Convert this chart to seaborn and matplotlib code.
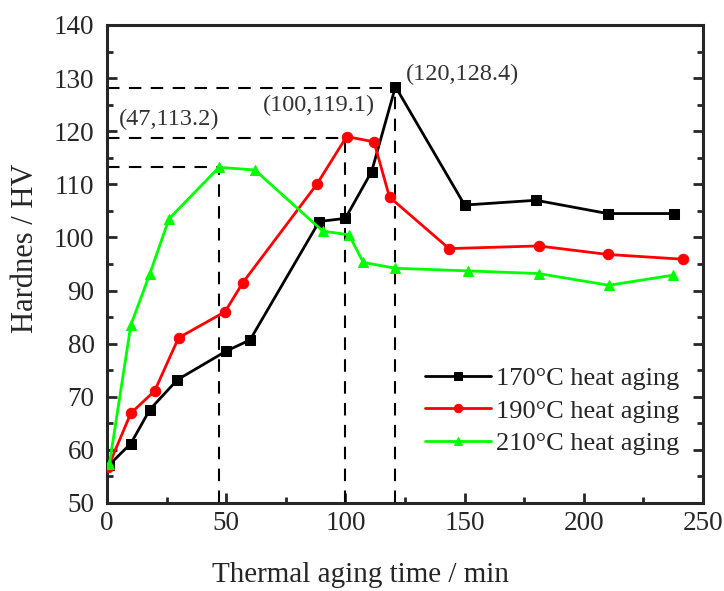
import matplotlib
matplotlib.use("Agg")
import matplotlib.pyplot as plt
import seaborn as sns
import pandas as pd
from matplotlib.ticker import MultipleLocator

x170 = [1, 10, 18, 29.5, 50, 60, 89, 100, 111, 121, 150, 180, 210, 238]
y170 = [57.2, 61.2, 67.6, 73.2, 78.6, 80.7, 103.0, 103.6, 112.4, 128.4, 106.1, 107.0, 104.5, 104.5]
x190 = [0.5, 10, 20, 30, 49.5, 57, 88, 100.5, 112, 118.5, 143.5, 181, 210, 241.5]
y190 = [56.8, 66.9, 71.1, 81.1, 86.0, 91.5, 110.0, 119.0, 118.0, 107.6, 97.9, 98.4, 96.8, 95.9]
x210 = [1, 10, 18, 26, 47, 62, 90.5, 101.5, 107.5, 121, 151.5, 181, 210.5, 237.5]
y210 = [57.3, 83.5, 93.2, 103.5, 113.2, 112.7, 101.2, 100.5, 95.3, 94.2, 93.7, 93.2, 91.0, 92.9]
series_labels = ["170\u00b0C heat aging", "190\u00b0C heat aging", "210\u00b0C heat aging"]
peak_x = [47, 100, 121]
peak_y = [113.2, 118.7, 128.2]
peak_text = ["(47,113.2)", "(100,119.1)", "(120,128.4)"]

sns.set_theme(style="ticks")
plt.rcParams["font.family"] = ["Liberation Serif", "DejaVu Serif"]

df = pd.concat([
    pd.DataFrame({"t": x170, "hv": y170, "s": series_labels[0]}),
    pd.DataFrame({"t": x190, "hv": y190, "s": series_labels[1]}),
    pd.DataFrame({"t": x210, "hv": y210, "s": series_labels[2]}),
])

fig = plt.figure(figsize=(7.24, 5.91), dpi=100)
ax = fig.add_axes([107/724, 1-503/591, (703-107)/724, (503-25)/591])

colors = ["#000000", "#FF0000", "#00FF00"]
markers = ["s", "o", "^"]
for lab, c, m in zip(series_labels, colors, markers):
    sub = df[df["s"] == lab]
    sns.lineplot(data=sub, x="t", y="hv", ax=ax, color=c, marker=m, markersize=7.5,
                 markeredgecolor=c, linewidth=2, label=lab, sort=False, zorder=3)

# dashed guide lines
for px, py in zip(peak_x, peak_y):
    ax.plot([0, px], [py, py], ls=(0, (6, 4.5)), color="black", lw=1.5, zorder=2)
    ax.plot([px, px], [50, py], ls=(0, (6, 4.5)), color="black", lw=1.5, zorder=2)

ax.text(5.0, 121.2, peak_text[0], fontsize=17.5, color="#333333")
ax.text(65.5, 123.8, peak_text[1], fontsize=17.5, color="#333333")
ax.text(125.5, 129.6, peak_text[2], fontsize=17.5, color="#333333")

ax.set_xlim(0, 250)
ax.set_ylim(50, 140)
ax.xaxis.set_major_locator(MultipleLocator(50))
ax.xaxis.set_minor_locator(MultipleLocator(25))
ax.yaxis.set_major_locator(MultipleLocator(10))
ax.yaxis.set_minor_locator(MultipleLocator(5))
ax.tick_params(which="both", direction="in", top=False, right=True, labelsize=19.5, width=2)
ax.tick_params(which="major", length=7)
ax.tick_params(which="minor", length=4)
ax.tick_params(axis="y", pad=9)
ax.tick_params(axis="x", pad=6)
for sp in ax.spines.values():
    sp.set_linewidth(2.2)
    sp.set_visible(True)

ax.set_xlabel("Thermal aging time / min", fontsize=21)
ax.set_ylabel("Hardnes / HV", fontsize=22)
ax.xaxis.set_label_coords(0.426, -0.124)
ax.yaxis.set_label_coords(-0.112, 0.533)

leg = ax.legend(loc="lower right", bbox_to_anchor=(1.0, 0.05), frameon=False,
                fontsize=19, handlelength=2.5, handletextpad=0.2, labelspacing=0.35,
                markerscale=0.8)

fig.savefig("out.png", dpi=100)
